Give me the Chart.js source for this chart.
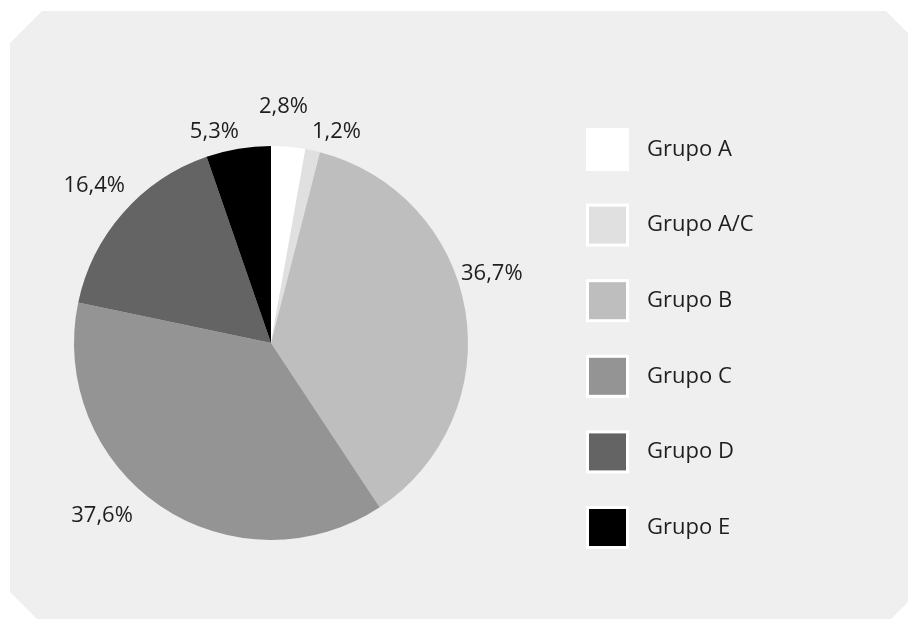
<!DOCTYPE html>
<html>
<head>
<meta charset="utf-8">
<script src="https://cdn.jsdelivr.net/npm/chart.js@4/dist/chart.umd.min.js"></script>
<style>
    html, body { margin: 0; padding: 0; background: #ffffff; }
    #wrap { position: relative; width: 908px; height: 619px; }
</style>
</head>
<body>
<div id="wrap"><canvas id="pieChart"></canvas></div>
<script>
// datos del gráfico
const groupLabels = ['Grupo A', 'Grupo A/C', 'Grupo B', 'Grupo C', 'Grupo D', 'Grupo E'];
const groupShares = [2.8, 1.2, 36.7, 37.6, 16.4, 5.3];
const groupColors = ['#ffffff', '#e0e0e0', '#bebebe', '#949494', '#646464', '#000000'];

// ajuste fino de las etiquetas respecto a su posición radial
const labelNudges = [[-8, -4], [16, 16], [-9, -31], [-38, -20], [-2, -3], [-18, 19]];

document.addEventListener('DOMContentLoaded', function () {
    const fontFamily = '"Open Sans", "DejaVu Sans", sans-serif';
    const textFont = '22px ' + fontFamily;
    const textColor = '#1e1e1e';

    const formatShare = value => value.toFixed(1).replace('.', ',') + '%';

    // panel gris con esquinas recortadas
    const panelPlugin = {
        id: 'panel',
        beforeDraw: chart => {
            const ctx = chart.ctx;
            const l = 10, t = 11, r = 918, b = 624, cut = 32;
            ctx.save();
            ctx.fillStyle = '#efefef';
            ctx.beginPath();
            ctx.moveTo(l + cut, t);
            ctx.lineTo(r - cut, t);
            ctx.lineTo(r, t + cut);
            ctx.lineTo(r, b - cut);
            ctx.lineTo(r - cut, b);
            ctx.lineTo(l + cut, b);
            ctx.lineTo(l, b - cut);
            ctx.lineTo(l, t + cut);
            ctx.closePath();
            ctx.fill();
            ctx.restore();
        }
    };

    // porcentajes fuera de cada sector
    const shareLabelsPlugin = {
        id: 'shareLabels',
        afterDatasetsDraw: chart => {
            const ctx = chart.ctx;
            const meta = chart.getDatasetMeta(0);
            ctx.save();
            ctx.font = textFont;
            ctx.fillStyle = textColor;
            ctx.textAlign = 'center';
            ctx.textBaseline = 'middle';
            meta.data.forEach((arc, i) => {
                const mid = (arc.startAngle + arc.endAngle) / 2;
                const dist = arc.outerRadius + 36;
                const x = arc.x + Math.cos(mid) * dist + labelNudges[i][0];
                const y = arc.y + Math.sin(mid) * dist + labelNudges[i][1];
                ctx.fillText(formatShare(groupShares[i]), x, y);
            });
            ctx.restore();
        }
    };

    // leyenda con cuadros grandes y borde blanco
    const legendPlugin = {
        id: 'boxLegend',
        afterDraw: chart => {
            const ctx = chart.ctx;
            const boxLeft = 586, boxTop = 128, boxSize = 43, step = 75.6, border = 3;
            ctx.save();
            ctx.font = textFont;
            ctx.textAlign = 'left';
            ctx.textBaseline = 'middle';
            groupLabels.forEach((label, i) => {
                const y = boxTop + i * step;
                ctx.fillStyle = '#ffffff';
                ctx.fillRect(boxLeft, y, boxSize, boxSize);
                ctx.fillStyle = groupColors[i];
                ctx.fillRect(boxLeft + border, y + border, boxSize - 2 * border, boxSize - 2 * border);
                ctx.fillStyle = textColor;
                ctx.fillText(label, 647, y + boxSize / 2);
            });
            ctx.restore();
        }
    };

    const ctx = document.getElementById('pieChart').getContext('2d');
    new Chart(ctx, {
        type: 'pie',
        data: {
            labels: groupLabels,
            datasets: [{
                data: groupShares,
                backgroundColor: groupColors,
                borderWidth: 0,
                hoverOffset: 0
            }]
        },
        options: {
            responsive: true,
            maintainAspectRatio: false,
            animation: false,
            layout: {
                padding: { left: 74, right: 440, top: 146, bottom: 79 }
            },
            plugins: {
                legend: { display: false },
                tooltip: { enabled: false }
            }
        },
        plugins: [panelPlugin, shareLabelsPlugin, legendPlugin]
    });
});
</script>
</body>
</html>
